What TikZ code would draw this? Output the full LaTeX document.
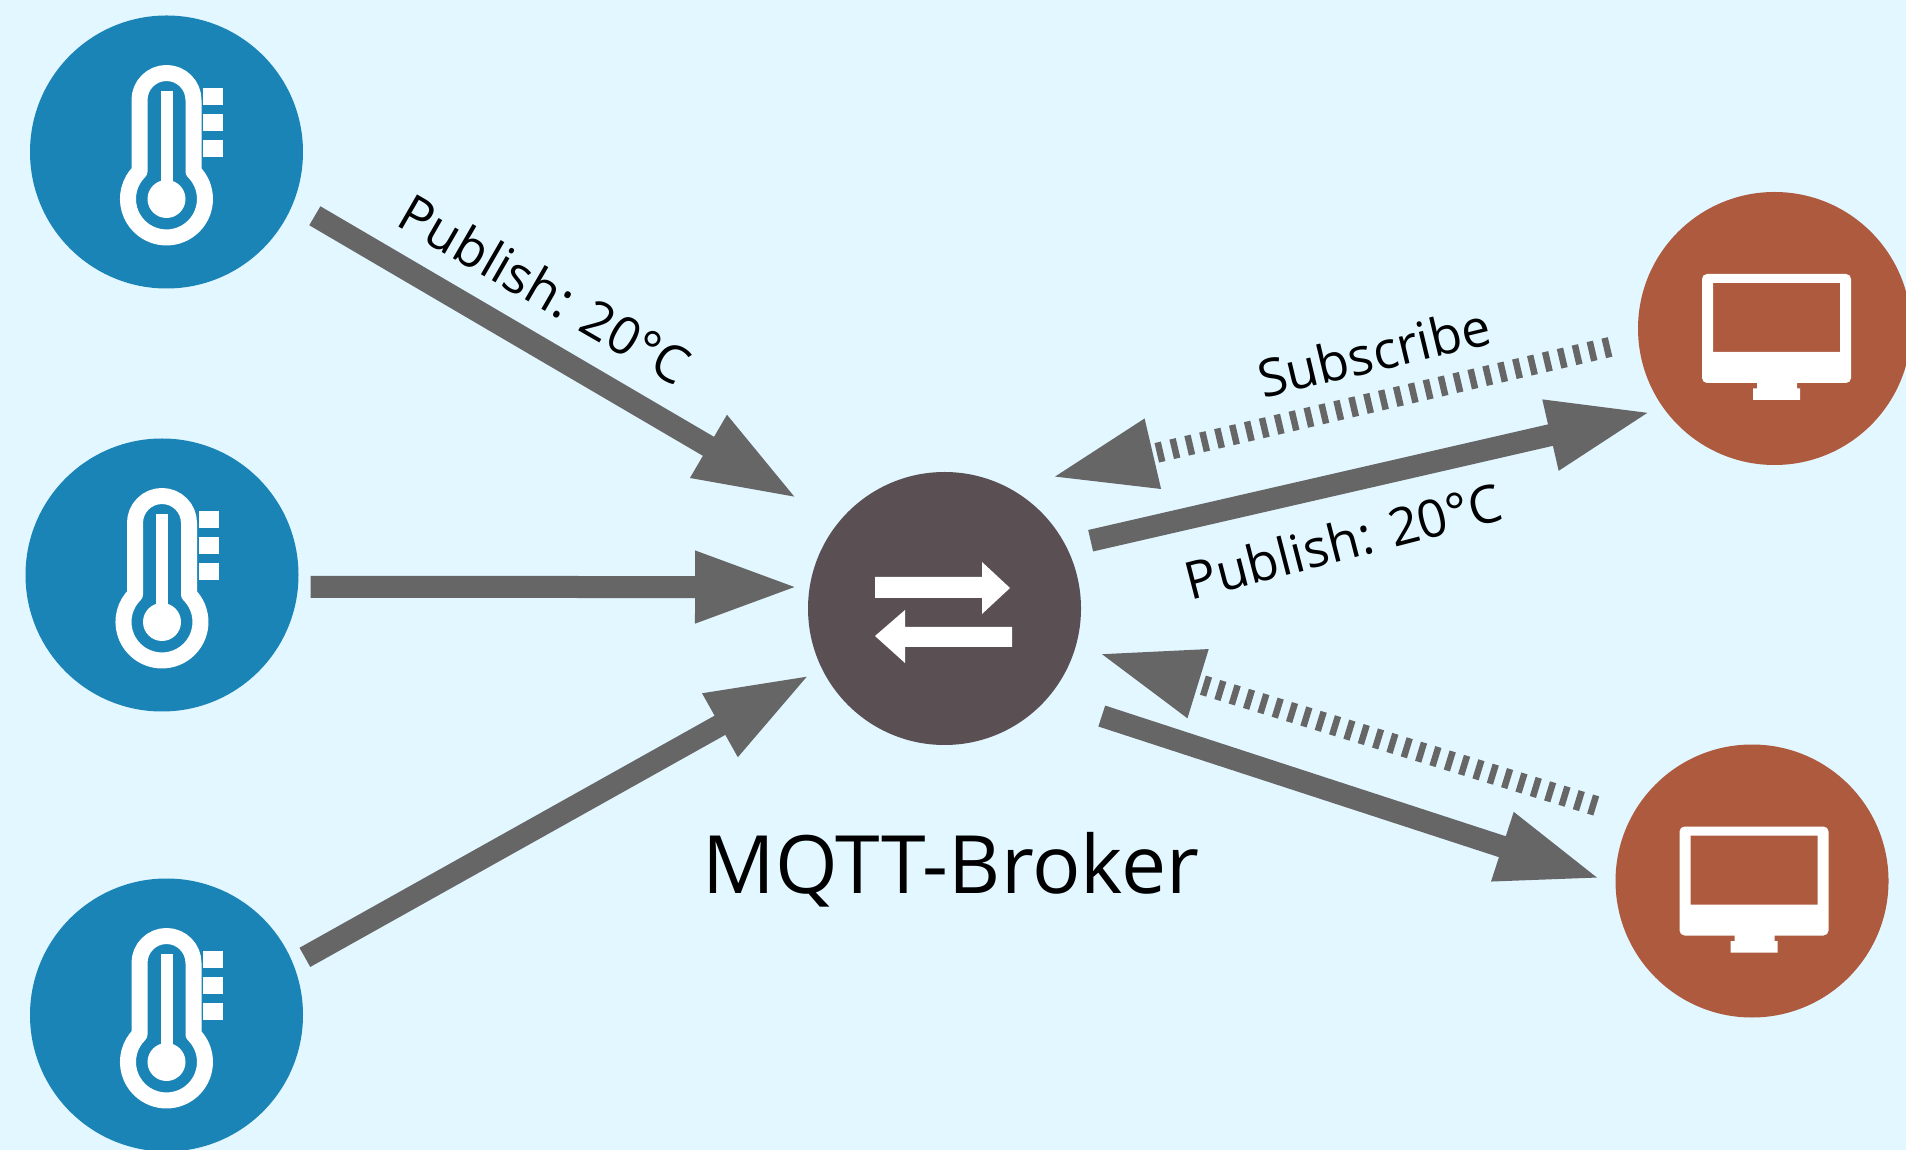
\documentclass[tikz,border=0pt]{standalone}
\usepackage{fontspec}
\setmainfont{Open Sans}
\usetikzlibrary{arrows.meta}
\definecolor{bgblue}{HTML}{E2F7FF}
\definecolor{sensorblue}{HTML}{1B84B7}
\definecolor{clientred}{HTML}{AD5A3E}
\definecolor{brokergrey}{HTML}{5A5054}
\definecolor{arrowgrey}{HTML}{666666}
\tikzset{
  disc/.style={circle, minimum size=2.73cm, inner sep=0pt, text=white},
  sensor/.style={disc, fill=sensorblue},
  client/.style={disc, fill=clientred},
  broker/.style={disc, fill=brokergrey},
  pub/.style={draw=arrowgrey, line width=2.2mm, -{Triangle[length=10.4mm,width=6.6mm,fill=arrowgrey]}},
  sub/.style={pub, line width=2mm, dash pattern=on 0.65mm off 0.85mm},
  lbl/.style={inner sep=0pt, font=\fontsize{14.8pt}{18pt}\selectfont},
  thermo/.pic={
    \draw[white, line width=1.6mm, line join=round] (-0.27,-0.1955) -- (-0.27,0.52) arc[start angle=180, end angle=0, radius=0.27]
      -- (0.27,-0.1955) arc[start angle=45.4, end angle=-225.4, radius=0.385] -- cycle;
    \fill[white] (0,-0.47) circle (0.19);
    \fill[white] (-0.06,-0.4) rectangle (0.06,0.61);
    \foreach \y in {0.47,0.21,-0.05}
      \fill[white] (0.365,\y) rectangle (0.565,\y+0.17);
  },
  screen/.pic={
    \fill[white, even odd rule] [rounded corners=0.5mm] (-0.725,0.545) rectangle (0.765,-0.545)
      [sharp corners] (-0.615,0.455) rectangle (0.655,-0.235);
    \fill[white] (-0.175,-0.5) -- (0.225,-0.5) -- (0.225,-0.6) -- (0.255,-0.6) -- (0.255,-0.715)
      -- (-0.215,-0.715) -- (-0.215,-0.6) -- (-0.175,-0.6) -- cycle;
  },
  swap/.pic={
    \fill[white] (-0.695,0.315) -- (0.375,0.315) -- (0.375,0.465) -- (0.655,0.205)
      -- (0.375,-0.055) -- (0.375,0.105) -- (-0.695,0.105) -- cycle;
    \fill[white] (0.675,-0.185) -- (-0.395,-0.185) -- (-0.395,-0.015) -- (-0.695,-0.275)
      -- (-0.395,-0.545) -- (-0.395,-0.385) -- (0.675,-0.385) -- cycle;
  }
}
\begin{document}
\begin{tikzpicture}
  \fill[bgblue] (0,0) rectangle (19.06,-11.5);
  \useasboundingbox (0,0) rectangle (19.06,-11.5);
  \node[sensor] (S1) at (1.665,-1.52) {};
  \node[sensor] (S2) at (1.62,-5.75) {};
  \node[sensor] (S3) at (1.665,-10.15) {};
  \node[broker] (B) at (9.445,-6.085) {};
  \node[client] (C1) at (17.745,-3.285) {};
  \node[client] (C2) at (17.52,-8.81) {};
  \foreach \n in {S1,S2,S3} \pic at (\n) {thermo};
  \foreach \n in {C1,C2} \pic at (\n) {screen};
  \pic at (B) {swap};
  \draw[pub, shorten <=2.45mm, shorten >=4.6mm] (S1.-22.2) -- (B.141.1);
  \draw[pub, shorten <=1.2mm, shorten >=1.0mm] (S2.-5.04) -- (B.171.2);
  \draw[pub, shorten <=1.28mm, shorten >=1.2mm] (S3.22.3) -- (B.206);
  \draw[pub, shorten <=2.45mm, shorten >=1.2mm] (B.27) -- (C1.216.5);
  \draw[sub, dash pattern=on 0.65mm off 0.88mm, shorten <=2.85mm, shorten >=4.38mm] (C1.185.9) -- (B.62.1);
  \draw[pub, shorten <=5.65mm, shorten >=1.43mm] (B.-41.8) -- (C2.181.8);
  \draw[sub, shorten <=3.62mm, shorten >=2.33mm] (C2.152.9) -- (B.-16);
  \node[lbl, rotate=-30] (L1) at (5.45,-2.89) {Publish: 20°C};
  \node[lbl, rotate=13.5] (L2) at (13.74,-3.52) {Subscribe};
  \node[lbl, rotate=14.5] (L3) at (13.43,-5.41) {Publish: 20°C};
  \node[inner sep=0pt, font=\fontsize{22.9pt}{27pt}\selectfont] (L4) at (9.51,-8.7) {MQTT-Broker};
\end{tikzpicture}
\end{document}
